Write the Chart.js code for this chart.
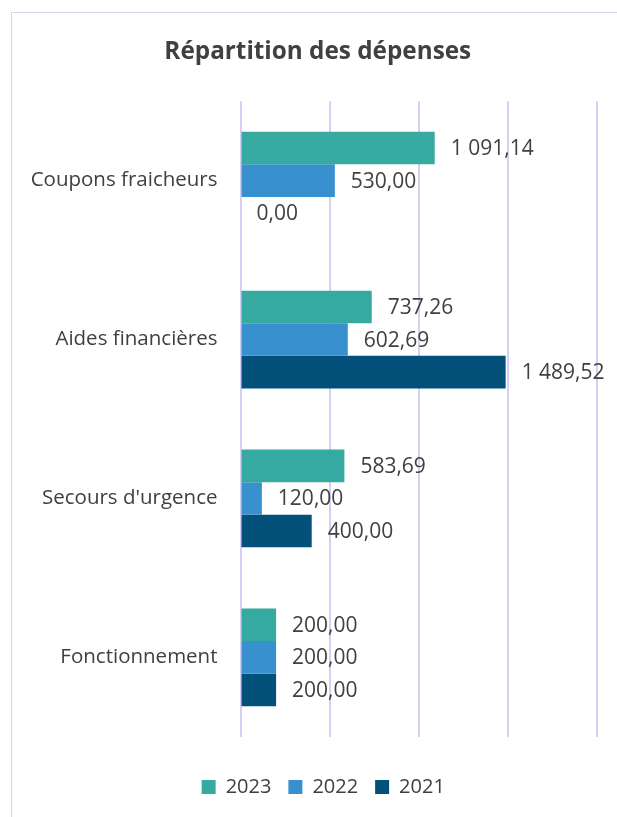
<!DOCTYPE html>
<html>
<head>
<meta charset="utf-8">
<script src="https://cdn.jsdelivr.net/npm/chart.js@4.4.1/dist/chart.umd.min.js"></script>
<style>
  html, body { margin: 0; padding: 0; background: #ffffff; overflow: hidden; }
  #box { position: absolute; left: 11px; top: 12px; width: 614px; height: 820px; border: 1.5px solid #d6d2f4; box-sizing: border-box; }
  #wrap { position: absolute; left: 0; top: 0; width: 611px; height: 817px; }
</style>
</head>
<body>
<div id="box"><div id="wrap"><canvas id="c"></canvas></div></div>
<script>
const categories = ["Coupons fraicheurs", "Aides financières", "Secours d'urgence", "Fonctionnement"];
const seriesNames = ["2023", "2022", "2021"];
const values2023 = [1091.14, 737.26, 583.69, 200.00];
const values2022 = [530.00, 602.69, 120.00, 200.00];
const values2021 = [0.00, 1489.52, 400.00, 200.00];
const seriesColors = ["#36aaa0", "#3890cf", "#03507a"];
const xTicks = [0, 500, 1000, 1500, 2000];

const FONT = "Open Sans";
const TEXT = "#404040";

function frNum(v) {
  const parts = v.toFixed(2).split(".");
  const intPart = parts[0].replace(/\B(?=(\d{3})+(?!\d))/g, " ");
  return intPart + "," + parts[1];
}

const labelPlugin = {
  id: "barLabels",
  afterDatasetsDraw(chart) {
    const ctx = chart.ctx;
    ctx.save();
    ctx.font = "21px '" + FONT + "'";
    ctx.fillStyle = TEXT;
    ctx.textAlign = "left";
    ctx.textBaseline = "middle";
    chart.data.datasets.forEach((ds, i) => {
      const meta = chart.getDatasetMeta(i);
      meta.data.forEach((bar, j) => {
        ctx.fillText(frNum(ds.data[j]), bar.x + 16, bar.y + 1);
      });
    });
    ctx.restore();
  }
};

// Centre title and legend on the whole chart frame rather than the padded area
const shiftPlugin = {
  id: "shiftBoxes",
  beforeDraw(chart) {
    if (chart.titleBlock) { chart.titleBlock.left += 13.5; chart.titleBlock.right += 13.5; }
    if (chart.legend) { chart.legend.left += 19; chart.legend.right += 19; }
  }
};

const datasets = [values2023, values2022, values2021].map((vals, i) => ({
  label: seriesNames[i],
  data: vals,
  backgroundColor: seriesColors[i],
  borderWidth: 0,
  categoryPercentage: 0.615,
  barPercentage: 1.0
}));

new Chart(document.getElementById("c"), {
  type: "bar",
  data: { labels: categories, datasets: datasets },
  plugins: [labelPlugin, shiftPlugin],
  options: {
    indexAxis: "y",
    responsive: true,
    maintainAspectRatio: false,
    animation: false,
    layout: { padding: { left: 0, right: 26.5, top: 0, bottom: 23 } },
    plugins: {
      title: {
        display: true,
        text: "Répartition des dépenses",
        color: TEXT,
        font: { family: FONT, size: 24.3, weight: "bold" },
        padding: { top: 24, bottom: 35 }
      },
      legend: {
        position: "bottom",
        title: { display: true, text: "", font: { size: 1 }, padding: { top: 22, bottom: 0 } },
        labels: {
          color: TEXT,
          font: { family: FONT, size: 20 },
          boxWidth: 14,
          boxHeight: 14,
          padding: 17
        }
      },
      tooltip: { enabled: false }
    },
    scales: {
      x: {
        min: 0, max: 2000,
        afterBuildTicks(scale) { scale.ticks = xTicks.map(v => ({ value: v })); },
        ticks: { display: false },
        grid: { color: "#d4cff5", lineWidth: 2, drawTicks: false },
        border: { display: false }
      },
      y: {
        afterFit(scale) { scale.width = 228.5; },
        ticks: { color: TEXT, font: { family: FONT, size: 20.5 }, padding: 23 },
        grid: { display: false, drawTicks: false },
        border: { display: false }
      }
    }
  }
});
</script>
</body>
</html>
